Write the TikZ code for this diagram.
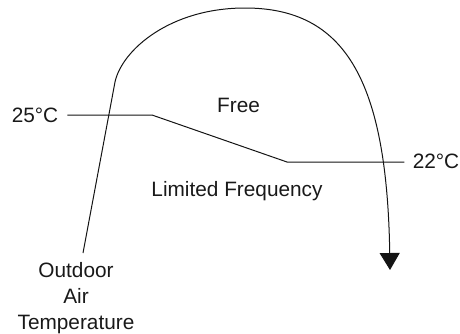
\documentclass[tikz,border=0pt]{standalone}
\usepackage{fontspec}
\setmainfont{Liberation Sans}
\usetikzlibrary{arrows.meta}
\begin{document}
\begin{tikzpicture}[x=0.75pt,y=-0.75pt, line width=0.75pt,
  lbl/.style={font=\fontsize{15.6}{19.5}\selectfont, inner sep=0pt, text=black!90},
  curve/.style={draw=black!92, -{Triangle[width=15pt,length=12.75pt]}},
  limit/.style={draw=black!92}]
\useasboundingbox (0,0) rectangle (460,333);
\node[lbl,anchor=base] (t25) at (35,122) {25°C};
\node[lbl,anchor=base] (t22) at (436,168) {22°C};
\node[lbl,anchor=base] (free) at (238.5,112) {Free};
\node[lbl,anchor=base] (lim) at (237,196) {Limited Frequency};
\node[lbl,align=center] (oat) at (76,298.6) {Outdoor\\Air\\Temperature};
\coordinate (c0) at (83,253);
\coordinate (c1) at (115,82);
\coordinate (top) at (245,8);
\coordinate (tip) at (390,270);
\coordinate (k1) at (152,115);
\coordinate (k2) at (287,162);
\draw[limit, shorten <=6.5pt, shorten >=6pt] (k1 -| t25.east) -- (k1) -- (k2) -- (k2 -| t22.west);
\draw[curve] (c0) -- (c1) .. controls (122,50) and (170,8) .. (top) .. controls (345,8) and (387,80) .. (tip);
\end{tikzpicture}
\end{document}
